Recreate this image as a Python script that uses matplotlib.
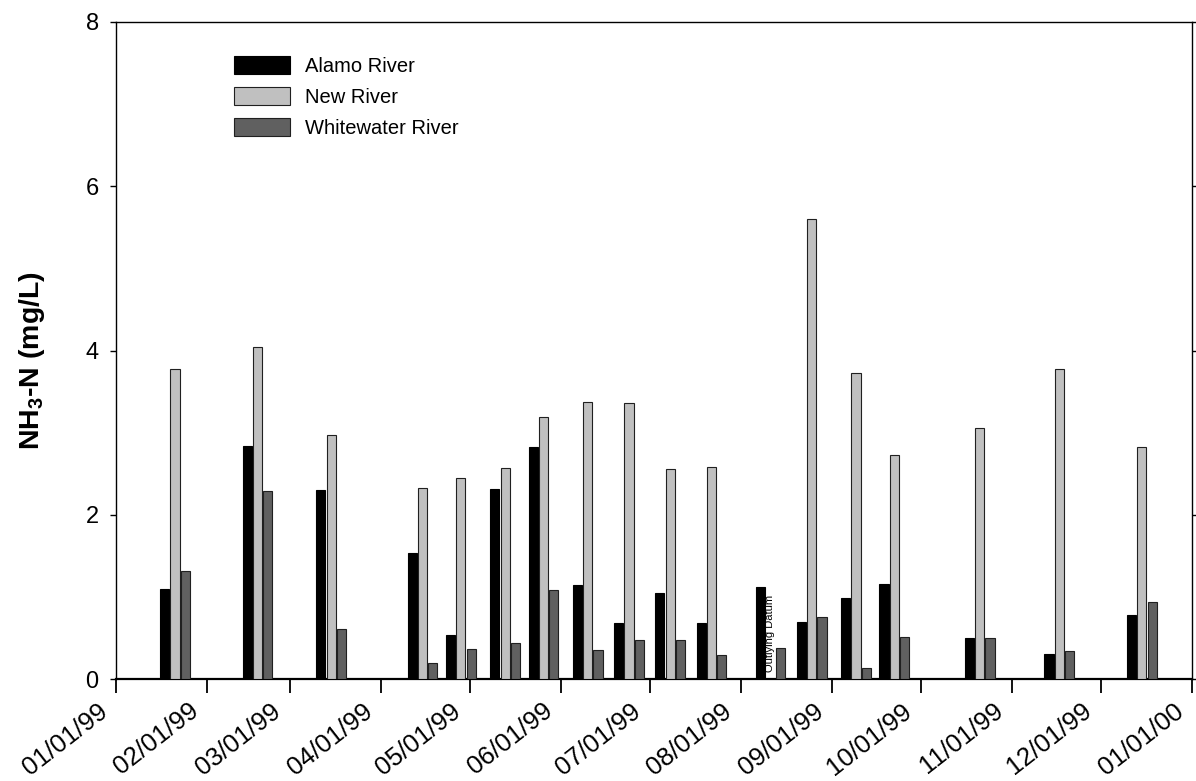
import numpy as np
import matplotlib
matplotlib.use("Agg")
import matplotlib.pyplot as plt
import matplotlib.dates as mdates
import matplotlib.transforms as mtransforms
import datetime as dt

plt.rcParams['font.family'] = ['Liberation Sans', 'DejaVu Sans']
plt.rcParams['mathtext.fontset'] = 'custom'
plt.rcParams['mathtext.rm'] = 'Liberation Sans'
plt.rcParams['mathtext.bf'] = 'Liberation Sans:bold'

sample_dates = ["1999-01-21", "1999-02-18", "1999-03-15", "1999-04-15", "1999-04-28",
                "1999-05-13", "1999-05-26", "1999-06-10", "1999-06-24", "1999-07-08",
                "1999-07-22", "1999-08-11", "1999-08-25", "1999-09-09", "1999-09-22",
                "1999-10-21", "1999-11-17", "1999-12-15"]
alamo = [1.09, 2.84, 2.30, 1.54, 0.54, 2.31, 2.83, 1.15, 0.68, 1.05,
         0.68, 1.12, 0.69, 0.99, 1.16, 0.50, 0.30, 0.78]
new_river = [3.77, 4.04, 2.97, 2.32, 2.45, 2.57, 3.19, 3.37, 3.36, 2.56,
             2.58, np.nan, 5.60, 3.73, 2.73, 3.06, 3.78, 2.82]
whitewater = [1.32, 2.29, 0.61, 0.19, 0.36, 0.44, 1.08, 0.35, 0.47, 0.47,
              0.29, 0.38, 0.75, 0.13, 0.51, 0.50, 0.34, 0.94]
series_names = ["Alamo River", "New River", "Whitewater River"]
outlier_index = 11
outlier_label = "Outlying Datum"

fig = plt.figure(figsize=(11.96, 7.81), dpi=100)
ax = fig.add_axes([116/1196, 1 - 679/781, (1192-116)/1196, (679-22)/781])

x = mdates.date2num([dt.datetime.strptime(d, "%Y-%m-%d") for d in sample_dates])
width = 3.1
step = 3.5
fills = ["#000000", "#c0c0c0", "#606060"]
edges = ["#000000", "#202020", "#202020"]
for i, (vals, name) in enumerate(zip([alamo, new_river, whitewater], series_names)):
    ax.bar(x + (i - 1) * step, vals, width=width, color=fills[i], edgecolor=edges[i],
           linewidth=0.8, label=name, zorder=3)

ax.text(x[outlier_index], 0.08, outlier_label, rotation=90, ha='center', va='bottom',
        fontsize=8, zorder=4)

ax.set_xlim(mdates.date2num(dt.datetime(1999, 1, 1)), mdates.date2num(dt.datetime(2000, 1, 1)))
ax.set_ylim(0, 8)
ax.set_yticks([0, 2, 4, 6, 8])
ax.xaxis.set_major_locator(mdates.MonthLocator())
ax.xaxis.set_major_formatter(mdates.DateFormatter("%m/%d/%y"))

ax.tick_params(axis='y', which='both', direction='out', length=4.5, width=1, labelsize=17,
               pad=8, right=True, left=True)
ax.tick_params(axis='x', direction='out', length=10, width=1.3, labelsize=18.5, pad=2, top=False)

offset = mtransforms.ScaledTranslation(-19/100, -3/100, fig.dpi_scale_trans)
for lab in ax.get_xticklabels():
    lab.set_rotation(38)
    lab.set_ha('right')
    lab.set_va('top')
    lab.set_rotation_mode('anchor')
    lab.set_transform(lab.get_transform() + offset)

for s in ['left', 'right', 'top']:
    ax.spines[s].set_linewidth(1.0)
ax.spines['bottom'].set_linewidth(1.6)

ax.set_ylabel(r"NH$_\mathbf{3}$-N (mg/L)", fontsize=20.5, fontweight='bold')
ax.yaxis.set_label_coords(-0.064, 0.4855)

leg = ax.legend(loc='upper left', bbox_to_anchor=(118/1076, 1 - 34/657), frameon=False,
                fontsize=14.5, handlelength=2.8, handleheight=1.0, labelspacing=0.55,
                handletextpad=0.75, borderaxespad=0, borderpad=0)

fig.savefig("out.png", dpi=100)
